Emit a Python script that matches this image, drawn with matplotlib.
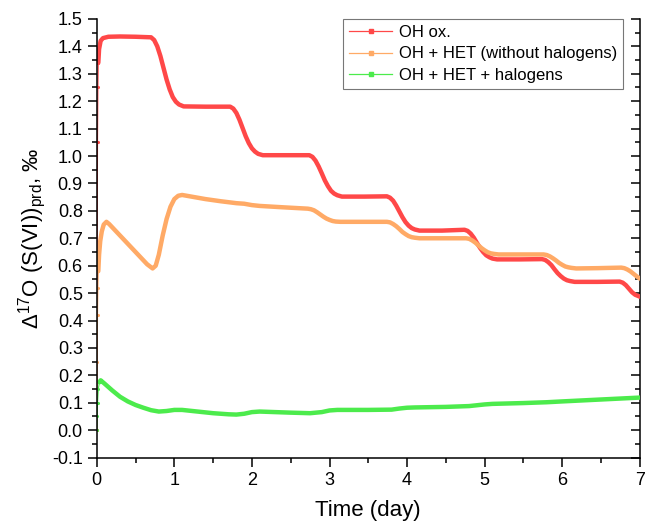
import matplotlib
matplotlib.use("Agg")
import matplotlib.pyplot as plt
from matplotlib.lines import Line2D
from matplotlib.ticker import MultipleLocator, NullFormatter

plt.rcParams['font.family'] = ['Liberation Sans', 'DejaVu Sans']
plt.rcParams['mathtext.fontset'] = 'custom'
plt.rcParams['mathtext.rm'] = 'Liberation Sans'
plt.rcParams['mathtext.it'] = 'Liberation Sans'

# data (time in days, D17O in permil)
t_red = [0.0, 0.005, 0.01, 0.015, 0.02, 0.03, 0.05, 0.08, 0.15, 0.3, 0.5,
         0.70, 0.74, 0.78, 0.82, 0.86, 0.90, 0.94, 0.98, 1.02, 1.06, 1.12, 1.4,
         1.72, 1.76, 1.80, 1.84, 1.88, 1.92, 1.96, 2.00, 2.04, 2.08, 2.14, 2.4,
         2.74, 2.78, 2.82, 2.86, 2.90, 2.94, 2.98, 3.02, 3.06, 3.10, 3.16, 3.45,
         3.74, 3.78, 3.82, 3.86, 3.90, 3.94, 3.98, 4.02, 4.06, 4.10, 4.16, 4.45,
         4.74, 4.78, 4.82, 4.86, 4.90, 4.94, 4.98, 5.02, 5.06, 5.10, 5.16, 5.45,
         5.74, 5.78, 5.82, 5.86, 5.90, 5.94, 5.98, 6.02, 6.06, 6.10, 6.16, 6.45,
         6.74, 6.78, 6.82, 6.86, 6.90, 6.94, 7.0]
v_red = [0.0, 0.6, 1.05, 1.25, 1.34, 1.39, 1.42, 1.43, 1.435, 1.436, 1.435,
         1.433, 1.423, 1.400, 1.365, 1.322, 1.279, 1.243, 1.215, 1.198, 1.188, 1.181, 1.18,
         1.18, 1.173, 1.157, 1.132, 1.102, 1.072, 1.047, 1.028, 1.016, 1.008, 1.003, 1.003,
         1.003, 0.997, 0.983, 0.962, 0.937, 0.911, 0.890, 0.873, 0.863, 0.857, 0.852, 0.852,
         0.853, 0.848, 0.837, 0.819, 0.798, 0.777, 0.759, 0.746, 0.737, 0.732, 0.728, 0.728,
         0.731, 0.727, 0.717, 0.702, 0.683, 0.665, 0.650, 0.638, 0.631, 0.626, 0.623, 0.623,
         0.624, 0.621, 0.613, 0.602, 0.587, 0.573, 0.562, 0.553, 0.547, 0.544, 0.541, 0.541,
         0.542, 0.538, 0.529, 0.516, 0.503, 0.494, 0.487]

t_orange = [0.0, 0.005, 0.01, 0.015, 0.02, 0.03, 0.045, 0.065, 0.09, 0.125, 0.16, 0.25,
            0.35, 0.45, 0.55, 0.65, 0.72, 0.76, 0.80, 0.85, 0.90, 0.95, 1.00, 1.05, 1.10,
            1.2, 1.4, 1.6, 1.8, 1.9, 2.0, 2.1, 2.4,
            2.72, 2.76, 2.80, 2.84, 2.88, 2.92, 2.96, 3.00, 3.04, 3.08, 3.14, 3.45,
            3.74, 3.78, 3.82, 3.86, 3.90, 3.94, 3.98, 4.02, 4.06, 4.10, 4.16, 4.45,
            4.76, 4.80, 4.84, 4.88, 4.92, 4.96, 5.00, 5.04, 5.08, 5.12, 5.18, 5.45,
            5.76, 5.80, 5.84, 5.88, 5.92, 5.96, 6.00, 6.04, 6.08, 6.12, 6.18, 6.45,
            6.76, 6.80, 6.84, 6.88, 6.92, 6.96, 7.0]
v_orange = [0.0, 0.25, 0.42, 0.52, 0.58, 0.64, 0.69, 0.725, 0.75, 0.76, 0.752, 0.725,
            0.695, 0.665, 0.635, 0.605, 0.59, 0.60, 0.64, 0.71, 0.77, 0.815, 0.843, 0.855, 0.858,
            0.853, 0.843, 0.835, 0.828, 0.826, 0.821, 0.818, 0.813,
            0.808, 0.806, 0.802, 0.795, 0.787, 0.779, 0.772, 0.767, 0.763, 0.761, 0.760, 0.760,
            0.760, 0.758, 0.752, 0.744, 0.734, 0.723, 0.715, 0.708, 0.704, 0.702, 0.700, 0.700,
            0.700, 0.698, 0.692, 0.684, 0.674, 0.664, 0.656, 0.649, 0.645, 0.643, 0.641, 0.641,
            0.641, 0.639, 0.634, 0.627, 0.619, 0.610, 0.603, 0.597, 0.594, 0.592, 0.590, 0.591,
            0.593, 0.591, 0.586, 0.579, 0.570, 0.561, 0.553]

t_green = [0.0, 0.005, 0.01, 0.02, 0.035, 0.05, 0.1, 0.2, 0.3, 0.4, 0.5, 0.6, 0.7, 0.8,
           0.9, 1.0, 1.1, 1.3, 1.5, 1.7, 1.8, 1.9, 2.0, 2.1, 2.3, 2.5, 2.75, 2.9, 3.0, 3.1,
           3.5, 3.8, 3.9, 4.0, 4.1, 4.5, 4.8, 4.9, 5.0, 5.1, 5.5, 5.8, 6.0, 6.5, 7.0]
v_green = [0.0, 0.05, 0.10, 0.15, 0.175, 0.182, 0.170, 0.145, 0.122, 0.105, 0.092, 0.082,
           0.073, 0.068, 0.070, 0.074, 0.074, 0.068, 0.062, 0.058, 0.057, 0.060, 0.066, 0.068,
           0.066, 0.064, 0.062, 0.066, 0.072, 0.074, 0.074, 0.075, 0.079, 0.082, 0.083, 0.085,
           0.088, 0.091, 0.094, 0.096, 0.099, 0.102, 0.105, 0.112, 0.119]

labels = ['OH ox.', 'OH + HET (without halogens)', 'OH + HET + halogens']
colors = ['#FF4848', '#FFAA66', '#4CEB4C']

fig = plt.figure(figsize=(6.45, 5.26), dpi=100)
ax = fig.add_axes([0.150, 0.130, 0.842, 0.834])

series = [(t_red, v_red), (t_orange, v_orange), (t_green, v_green)]
for (t, v), c in zip(series, colors):
    # the steep start is sparsely sampled -> thin line with dots
    ax.plot(t[:6], v[:6], color=c, lw=0.8, marker='o', ms=2.2, mec='none')
    ax.plot(t[4:], v[4:], color=c, lw=3.2, solid_capstyle='round', solid_joinstyle='round')

ax.set_xlim(0, 7)
ax.set_ylim(-0.1, 1.5)
ax.xaxis.set_major_locator(MultipleLocator(1))
ax.xaxis.set_minor_locator(MultipleLocator(0.5))
ax.set_yticks([i / 10 for i in range(-1, 16)])
ax.set_yticklabels(['%.1f' % (i / 10) for i in range(-1, 16)])
ax.yaxis.set_minor_locator(MultipleLocator(0.05))

ax.spines['top'].set_visible(False)
ax.spines['right'].set_visible(False)
for s in ['left', 'bottom']:
    ax.spines[s].set_linewidth(1.1)
ax.tick_params(axis='both', which='both', direction='out', width=1.1, labelsize=13)
ax.tick_params(which='major', length=6.5)
ax.tick_params(which='minor', length=3.5)
ax.tick_params(axis='x', which='both', top=False)
ax.tick_params(axis='y', which='both', right=False)

# right axis: ticks pointing inward, no labels
sec = ax.secondary_yaxis('right')
sec.spines['right'].set_linewidth(1.1)
sec.yaxis.set_major_locator(MultipleLocator(0.1))
sec.yaxis.set_minor_locator(MultipleLocator(0.05))
sec.yaxis.set_major_formatter(NullFormatter())
sec.tick_params(which='both', direction='in', width=1.1)
sec.tick_params(which='major', length=6.5)
sec.tick_params(which='minor', length=3.5)

ax.set_xlabel('Time (day)', fontsize=16, labelpad=8)
ax.set_ylabel('Δ$^{17}$O (S(VI))$_{\\mathregular{prd}}$, ‰', fontsize=16, labelpad=3)

handles = [Line2D([], [], color=c, lw=0.9, marker='s', ms=2.5) for c in colors]
leg = ax.legend(handles, labels, loc='upper right', bbox_to_anchor=(0.969, 1.0),
                borderaxespad=0, fontsize=12, frameon=True, fancybox=False,
                handlelength=2.6, handletextpad=0.4, borderpad=0.35, labelspacing=0.4)
leg.get_frame().set_edgecolor('#555555')
leg.get_frame().set_linewidth(0.8)

fig.savefig('out.png', dpi=100)
